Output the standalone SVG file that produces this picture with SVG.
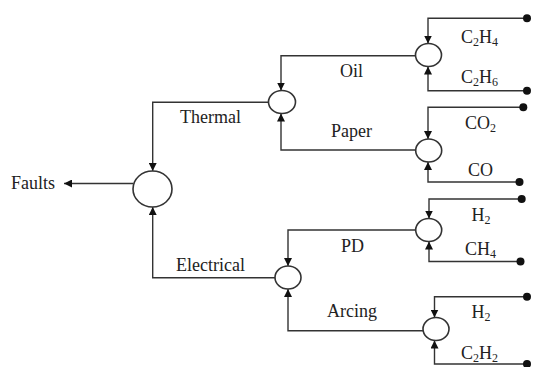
<svg xmlns="http://www.w3.org/2000/svg" width="533" height="367" viewBox="0 0 533 367">
<style>
  .ln { fill: none; stroke: #333; stroke-width: 1.4; }
  .nd { fill: #fff; stroke: #333; stroke-width: 1.6; }
  .dot { fill: #111; }
  text { font-family: "Liberation Serif", "Times New Roman", serif; font-size: 18px; fill: #222; }
  .sub { font-size: 12px; }
</style>
<defs>
  <marker id="arr" viewBox="0 0 10 10" refX="10" refY="5" markerWidth="8" markerHeight="8" markerUnits="userSpaceOnUse" orient="auto">
    <path d="M0,0 L10,5 L0,10 Z" fill="#111"/>
  </marker>
</defs>
<g id="connectors">
  <path class="ln" d="M133,183.5 H64" marker-end="url(#arr)"/>
  <path class="ln" d="M268.5,102.3 H152.7 V171" marker-end="url(#arr)"/>
  <path class="ln" d="M275,277.7 H152.7 V207" marker-end="url(#arr)"/>
  <path class="ln" d="M415.5,55.7 H281 V90.5" marker-end="url(#arr)"/>
  <path class="ln" d="M416,150 H281 V113.5" marker-end="url(#arr)"/>
  <path class="ln" d="M527,18.3 H428 V43.5" marker-end="url(#arr)"/>
  <path class="ln" d="M527,90.7 H428 V66.5" marker-end="url(#arr)"/>
  <path class="ln" d="M523.3,107.3 H428 V139" marker-end="url(#arr)"/>
  <path class="ln" d="M519.5,182 H428 V162" marker-end="url(#arr)"/>
  <path class="ln" d="M521.7,199 H429 V218.5" marker-end="url(#arr)"/>
  <path class="ln" d="M520.5,261.5 H429 V241.5" marker-end="url(#arr)"/>
  <path class="ln" d="M415.5,230 H288 V266" marker-end="url(#arr)"/>
  <path class="ln" d="M423,330.7 H288 V289" marker-end="url(#arr)"/>
  <path class="ln" d="M527,296.7 H434.5 V317.5" marker-end="url(#arr)"/>
  <path class="ln" d="M527,364 H434.5 V340.5" marker-end="url(#arr)"/>
  <circle class="dot" cx="527" cy="18.3" r="4"/>
  <circle class="dot" cx="527" cy="90.7" r="4"/>
  <circle class="dot" cx="523.3" cy="107.3" r="4"/>
  <circle class="dot" cx="519.5" cy="182" r="4"/>
  <circle class="dot" cx="521.7" cy="199" r="4"/>
  <circle class="dot" cx="520.5" cy="261.5" r="4"/>
  <circle class="dot" cx="527" cy="296.7" r="4"/>
  <circle class="dot" cx="527" cy="364" r="4"/>
</g>
<g id="faults">
  <ellipse class="nd" cx="152.5" cy="189" rx="19.5" ry="18"/>
  <text x="11" y="189">Faults</text>
</g>
<g id="thermal">
  <ellipse class="nd" cx="282" cy="102" rx="13.5" ry="11.5"/>
  <text x="180" y="123">Thermal</text>
</g>
<g id="electrical">
  <ellipse class="nd" cx="288" cy="277.5" rx="13" ry="11.5"/>
  <text x="176" y="271">Electrical</text>
</g>
<g id="oil">
  <ellipse class="nd" cx="428.5" cy="55" rx="13" ry="11.5"/>
  <text x="340" y="77">Oil</text>
</g>
<g id="paper">
  <ellipse class="nd" cx="428.7" cy="150.5" rx="13" ry="11.5"/>
  <text x="331" y="137">Paper</text>
</g>
<g id="pd">
  <ellipse class="nd" cx="428.7" cy="230" rx="13" ry="11.5"/>
  <text x="341" y="252">PD</text>
</g>
<g id="arcing">
  <ellipse class="nd" cx="436" cy="329" rx="13" ry="11.5"/>
  <text x="327" y="317">Arcing</text>
</g>
<g id="gases">
  <text x="461" y="43">C<tspan class="sub" dy="3">2</tspan><tspan dy="-3">H</tspan><tspan class="sub" dy="3">4</tspan></text>
  <text x="461" y="83">C<tspan class="sub" dy="3">2</tspan><tspan dy="-3">H</tspan><tspan class="sub" dy="3">6</tspan></text>
  <text x="465" y="128.5">CO<tspan class="sub" dy="3">2</tspan></text>
  <text x="468" y="176">CO</text>
  <text x="471.5" y="220.5">H<tspan class="sub" dy="3">2</tspan></text>
  <text x="465" y="255">CH<tspan class="sub" dy="3">4</tspan></text>
  <text x="471.5" y="318">H<tspan class="sub" dy="3">2</tspan></text>
  <text x="461" y="358.5">C<tspan class="sub" dy="3">2</tspan><tspan dy="-3">H</tspan><tspan class="sub" dy="3">2</tspan></text>
</g>
</svg>
